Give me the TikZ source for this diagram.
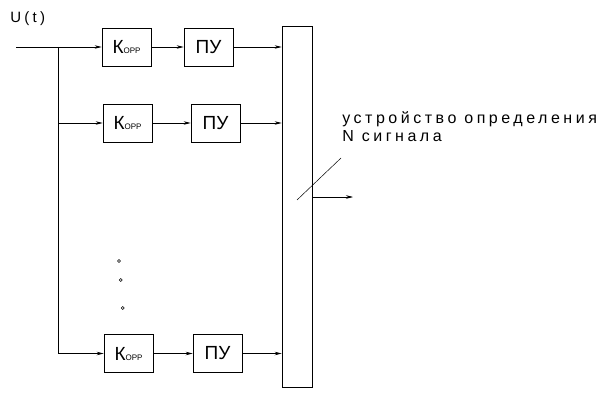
\documentclass[tikz,border=0pt]{standalone}
\usepackage{fontspec}
\setmainfont{Liberation Sans}
\newfontfamily\cad[LetterSpace=22]{Liberation Sans}
\usetikzlibrary{arrows.meta,calc}
\begin{document}
\begin{tikzpicture}[x=1pt,y=-1pt,
  line width=0.6pt,
  blk/.style={draw,minimum width=49pt,minimum height=38pt,inner sep=0pt,font=\fontsize{19}{19}\selectfont},
  arr/.style={-{Stealth[length=7pt,width=3.5pt]}},
  lbl/.style={anchor=base west,inner sep=0pt,font=\cad\fontsize{16}{16}\selectfont},
  dot/.style={circle,draw,minimum size=3pt,inner sep=0pt,line width=0.6pt}]
\useasboundingbox (0,0) rectangle (610,412);
% input
\node[anchor=base west,inner sep=0pt,font=\cad\fontsize{15}{15}\selectfont] (u) at (10,23) {U(t)};
\coordinate (in) at (16,47);
\coordinate (sp) at (58,47);
\coordinate (sp2) at (58,123);
\coordinate (sp3) at (58,353.5);
% blocks
\newcommand{\korr}{К{\fontsize{8}{8}\selectfont ОРР}}
\node[blk] (k1) at (126.5,47) {\korr};
\node[blk] (p1) at (208.5,47) {ПУ};
\node[blk] (k2) at (127.5,123) {\korr};
\node[blk] (p2) at (215.5,123) {ПУ};
\node[blk] (k3) at (128.5,353.5) {\korr};
\node[blk] (p3) at (217.5,353.5) {ПУ};
\node[draw,minimum width=30pt,minimum height=361pt,inner sep=0pt] (dev) at (297,206.5) {};
% dots
\node[dot] (d1) at (119,261) {};
\node[dot] (d2) at (120.7,280) {};
\node[dot] (d3) at (122.7,308) {};
% connectors
\draw[arr] (in) -- (k1);
\draw (sp) -- (sp3);
\draw[arr] (sp2) -- (k2);
\draw[arr] (sp3) -- (k3);
\draw[arr] (k1) -- (p1);
\draw[arr] (k2) -- (p2);
\draw[arr] (k3) -- (p3);
\draw[arr] (p1) -- (p1 -| dev.west);
\draw[arr] (p2) -- (p2 -| dev.west);
\draw[arr] (p3) -- (p3 -| dev.west);
\coordinate (out) at (353,197);
\draw[arr] (out -| dev.east) -- (out);
\coordinate (s1) at (297,200);
\coordinate (s2) at (341,158);
\draw[line width=0.5pt] (s1) -- (s2);
% label
\node[lbl] (t1) at (342,123) {устройство определения};
\node[lbl] (t2) at (342,141) {N сигнала};
\end{tikzpicture}
\end{document}
